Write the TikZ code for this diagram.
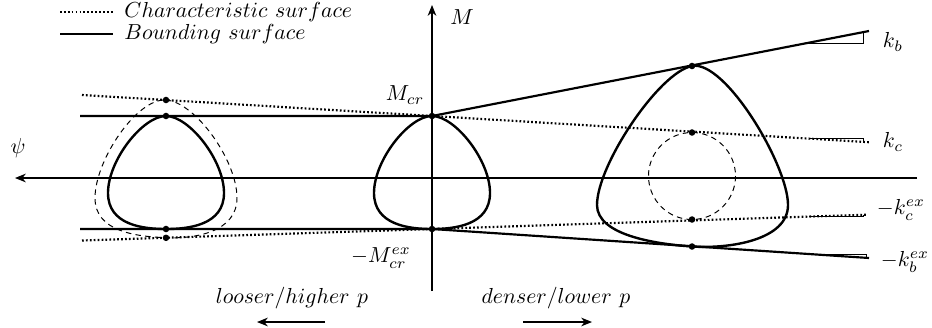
\documentclass[tikz,border=0pt]{standalone}
\usetikzlibrary{arrows.meta}
\begin{document}
\begin{tikzpicture}[x=0.46pt,y=-0.46pt,
  font=\fontsize{10.4}{12.5}\selectfont,
  bound/.style={line width=1pt},
  charline/.style={line width=1pt, dash pattern=on 0.8pt off 1pt},
  loopline/.style={line width=1.1pt, line join=round},
  guess/.style={line width=0.45pt, dash pattern=on 2.5pt off 2pt},
  axis/.style={line width=0.5pt, -{Stealth[length=5pt,width=4pt]}},
  slopetri/.style={line width=0.35pt},
  dot/.style={circle, fill, inner sep=0pt, minimum size=3pt},
  lbl/.style={inner sep=0pt},
]
\useasboundingbox (0,0) rectangle (932,327);
% key points
\coordinate (Mcr) at (432,116);
\coordinate (Mex) at (432,229);
\coordinate (bL1) at (80,116);
\coordinate (bL2) at (80,229);
\coordinate (kbE) at (869,31);
\coordinate (kbxE) at (869,258);
\coordinate (kcL) at (82,95);
\coordinate (kcR) at (869,142.2);
\coordinate (kcxL) at (82,240.5);
\coordinate (kcxR) at (866,214.7);
% axes
\coordinate (xR) at (917,178);
\coordinate (xL) at (15,178);
\coordinate (yB) at (432,291);
\coordinate (yT) at (432,5);
\draw[axis] (xR) -- (xL);
\draw[axis] (yB) -- (yT);
% bounding surface lines
\draw[bound] (bL1) -- (Mcr) -- (kbE);
\draw[bound] (bL2) -- (Mex) -- (kbxE);
% characteristic lines
\draw[charline] (kcL) -- (kcR);
\draw[charline] (kcxL) -- (kcxR);
% slope triangles
\draw[slopetri] (808,42.9) -- (863,42.9) -- (863,32.2);
\draw[slopetri] (809,138.6) -- (863,138.6) -- (863,141.9);
\draw[slopetri] (809,216.6) -- (863,216.6) -- (863,214.8);
\draw[slopetri] (813,254.3) -- (866,254.3) -- (866,257.8);
% middle loop
\draw[loopline] (432,116) .. controls (455,116) and (490,160) .. (490,193)
  .. controls (490,225) and (455,229) .. (432,229)
  .. controls (409,229) and (374,225) .. (374,193)
  .. controls (374,160) and (409,116) .. (432,116) -- cycle;
% left loop
\draw[loopline] (166,116) .. controls (189,116) and (224,160) .. (224,193)
  .. controls (224,225) and (189,229) .. (166,229)
  .. controls (143,229) and (108,225) .. (108,193)
  .. controls (108,160) and (143,116) .. (166,116) -- cycle;
% left dashed loop
\draw[guess] (166,100) .. controls (195,102) and (237,160) .. (237,198)
  .. controls (237,232) and (195,239) .. (166,237.7)
  .. controls (137,236.5) and (95,232) .. (95,198)
  .. controls (95,160) and (137,98) .. (166,100) -- cycle;
% right loop
\draw[loopline] (692,66) .. controls (725,59.6) and (788,165) .. (788,205)
  .. controls (788,240) and (730,249) .. (692,246.5)
  .. controls (655,244) and (597,235) .. (597,205)
  .. controls (597,165) and (659,72.4) .. (692,66) -- cycle;
% right dashed circle
\draw[guess] (692,176) circle[radius=43.5];
% dots
\node[dot] (d1) at (166,100) {};
\node[dot] (d2) at (166,116) {};
\node[dot] (d3) at (166,229) {};
\node[dot] (d4) at (166,237.8) {};
\node[dot] (d5) at (Mcr) {};
\node[dot] (d6) at (Mex) {};
\node[dot] (d7) at (692,66) {};
\node[dot] (d8) at (692,132.5) {};
\node[dot] (d9) at (692,219.5) {};
\node[dot] (d10) at (692,246.5) {};
% labels
\node[lbl] (lpsi) at (18,148) {$\psi$};
\node[lbl] (lM) at (462,17) {$M$};
\node[lbl] (lMcr) at (405,95) {$M_{cr}$};
\node[lbl] (lMex) at (381,258) {$-M_{cr}^{ex}$};
\node[lbl] (lkb) at (893,42) {$k_b$};
\node[lbl] (lkc) at (893,142) {$k_c$};
\node[lbl] (lkcx) at (901,210) {$-k_c^{ex}$};
\node[lbl] (lkbx) at (905,262) {$-k_b^{ex}$};
% legend
\coordinate (g1a) at (60,12); \coordinate (g1b) at (113,12);
\coordinate (g2a) at (60,34); \coordinate (g2b) at (113,34);
\draw[charline] (g1a) -- (g1b);
\draw[bound] (g2a) -- (g2b);
\node[lbl, anchor=west] (t1) at (124,12) {$Characteristic\ surface$};
\node[lbl, anchor=west] (t2) at (124,34) {$Bounding\ surface$};
% direction hints
\node[lbl] (loose) at (292,298) {$looser/higher\ p$};
\node[lbl] (dense) at (556,298) {$denser/lower\ p$};
\coordinate (a1s) at (325,322); \coordinate (a1e) at (257,322);
\coordinate (a2s) at (523,322); \coordinate (a2e) at (592,322);
\draw[axis] (a1s) -- (a1e);
\draw[axis] (a2s) -- (a2e);
\end{tikzpicture}
\end{document}
